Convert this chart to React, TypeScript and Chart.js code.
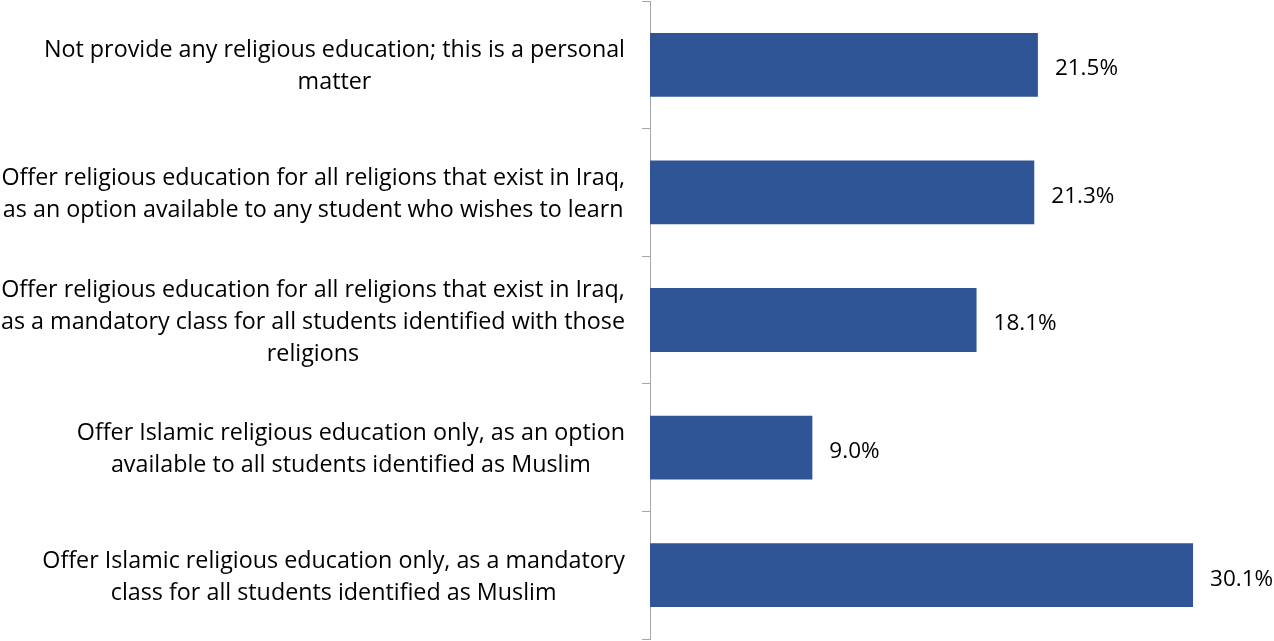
import React, { useEffect, useRef } from "react";
import { Chart, registerables } from "chart.js";

Chart.register(...registerables);

const categories: string[][] = [
  ["Not provide any religious education; this is a personal", "matter"],
  [
    "Offer religious education for all religions that exist in Iraq,",
    "as an option available to any student who wishes to learn",
  ],
  [
    "Offer religious education for all religions that exist in Iraq,",
    "as a mandatory class for all students identified with those",
    "religions",
  ],
  [
    "Offer Islamic religious education only, as an option",
    "available to all students identified as Muslim",
  ],
  [
    "Offer Islamic religious education only, as a mandatory",
    "class for all students identified as Muslim",
  ],
];

const values: number[] = [21.5, 21.3, 18.1, 9.0, 30.1];

const BAR_COLOR = "#2F5597";
const AXIS_COLOR = "#A6A6A6";
const FONT = "'Open Sans'";
const FONT_SIZE = 23.3;
const DATA_FONT_SIZE = 22.5;
const LINE_HEIGHT = 32;

const labelsPlugin = {
  id: "customLabels",
  afterDraw(chart: any) {
    const ctx = chart.ctx;
    const yScale = chart.scales.y;
    const area = chart.chartArea;
    ctx.save();
    ctx.font = `${FONT_SIZE}px ${FONT}`;
    ctx.fillStyle = "#000";
    ctx.textBaseline = "middle";
    categories.forEach((lines, i) => {
      const yc = yScale.getPixelForValue(i) + 2;
      const widths = lines.map((l) => ctx.measureText(l).width);
      const maxW = Math.max(...widths);
      const right = area.left - 25;
      const cx = right - maxW / 2;
      ctx.textAlign = "center";
      const n = lines.length;
      lines.forEach((l, j) => {
        const y = yc + (j - (n - 1) / 2) * LINE_HEIGHT;
        ctx.fillText(l, cx, y);
      });
    });
    const meta = chart.getDatasetMeta(0);
    ctx.font = `${DATA_FONT_SIZE}px ${FONT}`;
    ctx.textAlign = "left";
    meta.data.forEach((bar: any, i: number) => {
      ctx.fillText(values[i].toFixed(1) + "%", bar.x + 17, bar.y + 4);
    });
    ctx.restore();
  },
};

export default function App() {
  const ref = useRef<HTMLCanvasElement>(null);
  useEffect(() => {
    document.body.style.margin = "0";
    const chart = new Chart(ref.current!, {
      type: "bar",
      data: {
        labels: categories.map((c) => c.join(" ")),
        datasets: [
          {
            data: values,
            backgroundColor: BAR_COLOR,
            borderWidth: 0,
            barPercentage: 0.5,
            categoryPercentage: 1,
          },
        ],
      },
      options: {
        indexAxis: "y",
        animation: false,
        responsive: false,
        maintainAspectRatio: false,
        layout: { padding: { top: 1, bottom: 2, left: 0, right: 10.6 } },
        plugins: {
          legend: { display: false },
          tooltip: { enabled: false },
        },
        scales: {
          x: { display: false, min: 0, max: 34 },
          y: {
            display: true,
            afterFit: (s: any) => {
              s.width = 650;
            },
            grid: {
              drawOnChartArea: false,
              drawTicks: true,
              tickLength: 8,
              color: AXIS_COLOR,
              offset: true,
            },
            border: { display: true, color: AXIS_COLOR, width: 1 },
            ticks: { display: false },
          },
        },
      },
      plugins: [labelsPlugin],
    });
    return () => chart.destroy();
  }, []);
  return (
    <div style={{ width: 1274, height: 641 }}>
      <canvas ref={ref} width={1274} height={641} />
    </div>
  );
}
